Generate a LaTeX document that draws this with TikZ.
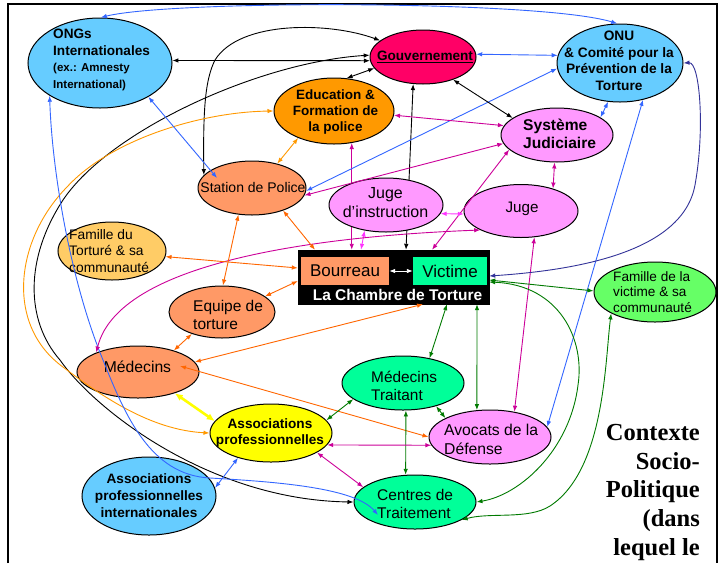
\documentclass[tikz,border=0pt]{standalone}
\usepackage{fontspec}
\setmainfont{Liberation Sans}
\newfontfamily\serifb{Liberation Serif}
\usetikzlibrary{shapes.geometric,arrows.meta,calc}
\newcommand\myfs[2]{\fontsize{#1}{#2}\selectfont}
\definecolor{cCyan}{HTML}{66CCFF}
\definecolor{cGouv}{HTML}{FF0066}
\definecolor{cEdu}{HTML}{FF9900}
\definecolor{cSalmon}{HTML}{FF9966}
\definecolor{cPink}{HTML}{FF99FF}
\definecolor{cFamT}{HTML}{FFCC66}
\definecolor{cFamV}{HTML}{66FF66}
\definecolor{cMint}{HTML}{00FF99}
\definecolor{cYel}{HTML}{FFFF00}
\definecolor{lBlue}{HTML}{3366FF}
\definecolor{lOr}{HTML}{FF6600}
\definecolor{lOr2}{HTML}{FF9900}
\definecolor{lMag}{HTML}{CC0099}
\definecolor{lMag2}{HTML}{FF33FF}
\definecolor{lGreen}{HTML}{007A00}
\definecolor{lNavy}{HTML}{333399}
\begin{document}
\begin{tikzpicture}[x=1pt,y=-1pt,
  ell/.style={ellipse, draw=black, line width=1pt, inner sep=0pt},
  lbl/.style={inner sep=0pt, text=black},
  ar/.style={line width=0.9pt, <->, >={Latex[length=6pt,width=4.5pt]}},
  yel/.style={line width=2.6pt, draw=cYel, <->, >={Latex[length=8pt,width=7pt]}}]
\useasboundingbox (0,0) rectangle (722,563);
\fill[white] (0,0) rectangle (722,563);
\draw[line width=2pt] (8,563) -- (8,4) -- (717,4) -- (717,563);

% nodes
\node[ell, fill=cCyan, minimum width=144pt, minimum height=90pt] (ongs) at (100,63) {};
\node[lbl, anchor=west, align=left, font=\bfseries\myfs{13.6}{16.5}] (ongsT) at (53,60) {ONGs\\Internationales\\{\myfs{11.5}{13}(ex.: Amnesty}\\{\myfs{11.5}{13}International)}};

\node[ell, fill=cGouv, minimum width=106pt, minimum height=54pt] (gouv) at (423,57) {};
\node[lbl, font=\bfseries\myfs{13.6}{16}] (gouvT) at (425,57) {\underline{Gouvernement}};

\node[ell, fill=cEdu, minimum width=120pt, minimum height=66pt] (edu) at (334,111) {};
\node[lbl, align=center, font=\bfseries\myfs{13.5}{16}] (eduT) at (335.5,112) {Education \&\\Formation de\\la police};

\node[ell, fill=cCyan, minimum width=126pt, minimum height=78pt] (onu) at (620,63) {};
\node[lbl, align=center, font=\bfseries\myfs{13.7}{16.5}] (onuT) at (619,61) {ONU\\\& Comité pour la\\Prévention de la\\Torture};

\node[ell, fill=cPink, minimum width=112pt, minimum height=54pt] (sj) at (557,135) {};
\node[lbl, anchor=west, align=left, font=\bfseries\myfs{15.6}{18}] (sjT) at (523,134) {Système\\Judiciaire};

\node[ell, fill=cSalmon, minimum width=108pt, minimum height=54pt] (police) at (252,188) {};
\node[lbl, font=\myfs{14}{16}] (policeT) at (253,187) {Station de Police};

\node[ell, fill=cPink, minimum width=114pt, minimum height=53pt] (juge) at (521,211) {};
\node[lbl, font=\myfs{15.2}{18}] (jugeT) at (522,209) {Juge};

\node[ell, fill=cFamT, minimum width=108pt, minimum height=58pt] (famt) at (112,251) {};
\node[lbl, anchor=west, align=left, font=\myfs{13.8}{16.5}] (famtT) at (69,251) {Famille du\\Torturé \& sa\\communauté};

\node[rectangle, fill=black, draw=black, minimum width=191pt, minimum height=54pt, inner sep=0pt] (chamber) at (393.5,277) {};
\node[rectangle, fill=cSalmon, minimum width=88pt, minimum height=28pt, inner sep=0pt, font=\myfs{17}{20}] (bour) at (345,271) {Bourreau};
\node[rectangle, fill=cMint, minimum width=74pt, minimum height=28pt, inner sep=0pt, font=\myfs{17}{20}] (vict) at (450,271) {Victime};
\node[lbl, text=white, font=\bfseries\myfs{15.5}{18}] (chT) at (397.5,295) {La Chambre de Torture};

\node[ell, fill=cFamV, minimum width=122pt, minimum height=60pt] (famv) at (655,292) {};
\node[lbl, anchor=west, align=left, font=\myfs{13.6}{15.5}] (famvT) at (613,292) {Famille de la\\victime \& sa\\communauté};

\node[ell, fill=cSalmon, minimum width=106pt, minimum height=52pt] (equipe) at (222,312) {};
\node[lbl, anchor=west, align=left, font=\myfs{15.5}{18}] (equipeT) at (193,315) {Equipe de\\torture};

\node[ell, fill=cSalmon, minimum width=122pt, minimum height=52pt] (med) at (138,372) {};
\node[lbl, font=\myfs{15.7}{18}] (medT) at (137.5,367) {Médecins};

\node[ell, fill=cMint, minimum width=122pt, minimum height=54pt] (medt) at (403,383) {};
\node[lbl, anchor=west, align=left, font=\myfs{15.4}{18}] (medtT) at (371,386) {Médecins\\Traitant};

\node[ell, fill=cYel, minimum width=122pt, minimum height=58pt] (assoc) at (271,433) {};
\node[lbl, align=center, font=\bfseries\myfs{13.6}{16}] (assocT) at (270,433) {Associations\\professionnelles};

\node[ell, fill=cPink, minimum width=122pt, minimum height=54pt] (avoc) at (490,437) {};
\node[lbl, anchor=west, align=left, font=\myfs{15.7}{19}] (avocT) at (444,439.5) {Avocats de la\\Défense};

\node[ell, fill=cCyan, minimum width=134pt, minimum height=78pt] (associ) at (149,496) {};
\node[lbl, align=center, font=\bfseries\myfs{13.6}{17}] (associT) at (149,496) {Associations\\professionnelles\\internationales};

\node[ell, fill=cMint, minimum width=122pt, minimum height=54pt] (centres) at (415,502) {};
\node[lbl, anchor=west, align=left, font=\myfs{15.5}{18}] (centresT) at (377,504) {Centres de\\Traitement};

\node[lbl, anchor=north east, align=right, font=\serifb\bfseries\myfs{24.5}{28.7}] (ctx) at (700,424) {Contexte\\Socio-\\Politique\\(dans\\lequel le};

\coordinate (centresin) at (378,515);
\coordinate (medin) at (180,366);
\coordinate (policein) at (217,178);

% lines passing behind Juge d'instruction
\draw[ar, black] (gouv.250) -- ($(chamber.north)+(12.5,0)$);
\draw[ar, lMag] (edu.299) -- (edu.299 |- chamber.north);

\node[ell, fill=cPink, minimum width=114pt, minimum height=54pt] (ji) at (386,205) {};
\node[lbl, align=center, font=\myfs{16}{19}] (jiT) at (385.5,203) {Juge\\d’instruction};

% connectors
\draw[ar, lBlue] (ongs.89) .. controls (170,0) and (540,0) .. (onu.94);
\draw[ar, black] (ongs.2) -- (gouv.184);
\draw[ar, black] (gouv.159) .. controls (330,22) and (240,20) .. (215,60) .. controls (205,80) and (203,110) .. (police.165);
\draw[ar, black] (gouv.178) .. controls (260,62) and (110,130) .. (63,200) .. controls (25,258) and (25,320) .. (60,360) .. controls (95,410) and (210,500) .. (centres.180);
\draw[ar, lOr2] (edu.180) .. controls (200,112) and (110,140) .. (67,187) .. controls (15,240) and (5,325) .. (63,367) .. controls (100,395) and (150,430) .. (assoc.180);
\draw[ar, lBlue] (ongs.213) .. controls (52,170) and (70,280) .. (103,360) .. controls (125,415) and (150,475) .. (210,478) .. controls (280,482) and (355,488) .. (centresin);
\draw[ar, lBlue] (ongs.325) -- (policein);
\draw[ar, lBlue] (gouv.3) -- (onu.173);
\draw[ar, lBlue] (onu.185) -- (police.357);
\draw[ar, black] (gouv.323) -- (sj.159);
\draw[ar, black] (gouv.193) -- (edu.69);
\draw[ar, lMag] (edu.356) -- (sj.170);
\draw[ar, lMag] (sj.189) -- (police.352);
\draw[ar, lMag] (sj.197) -- ($(chamber.north)+(38.5,0)$);
\draw[ar, lMag2] (ji.230) -- ($(chamber.north)+(-32.5,0)$);
\draw[ar, lMag2] (ji.351) -- (juge.183);
\draw[ar, lMag] (juge.205) .. controls (350,235) and (120,255) .. (med.155);
\draw[ar, lMag] (sj.265) -- (juge.35);
\draw[ar, lMag] (juge.297) -- (avoc.46);
\draw[ar, lBlue] (onu.302) -- (avoc.10);
\draw[ar, lBlue] (onu.253) -- (sj.22);
\draw[ar, lNavy] (onu.0) .. controls (700,62) and (705,130) .. (695,185) .. controls (683,251) and (580,270) .. ($(chamber.east)+(0,-1)$);
\draw[ar, lGreen] ($(chamber.east)+(0,3)$) -- (famv.179);
\draw[ar, lGreen] ($(chamber.east)+(0,5)$) .. controls (560,285) and (585,340) .. (578,385) .. controls (570,450) and (520,495) .. (centres.0);
\draw[ar, lGreen] (famv.206) .. controls (605,360) and (605,470) .. (550,506) .. controls (528,520) and (490,512) .. (centres.339);
\draw[ar, lGreen] ($(chamber.south)+(53.5,0)$) -- (medt.43);
\draw[ar, lGreen] ($(chamber.south)+(83.5,0)$) -- (avoc.116);
\draw[ar, lOr] (med.10) -- ($(chamber.south)+(29.5,0)$);
\draw[ar, lOr] (medin) -- (avoc.180);
\draw[ar, lOr] (police.243) -- (equipe.88);
\draw[ar, lOr] (police.324) -- ($(chamber.north)+(-78.5,0)$);
\draw[ar, lOr] (famt.354) -- ($(chamber.west)+(0,-9)$);
\draw[ar, lOr] (equipe.20) -- ($(chamber.west)+(0,4)$);
\draw[ar, lOr] (equipe.216) -- (med.31);
\draw[ar, lOr2] (edu.217) -- (police.44);
\draw[yel] (med.330) -- (assoc.168);
\draw[ar, lGreen] (medt.198) -- (assoc.13);
\draw[ar, lGreen] (medt.325) -- (avoc.157);
\draw[ar, lGreen] (medt.276) -- (centres.109);
\draw[ar, lMag] (assoc.348) -- (avoc.188);
\draw[ar, lMag] (assoc.337) -- (centres.164);
\draw[ar, lBlue] (assoc.217) -- (associ.7);
\draw[ar, white] (bour.east) -- (vict.west);
\end{tikzpicture}
\end{document}
